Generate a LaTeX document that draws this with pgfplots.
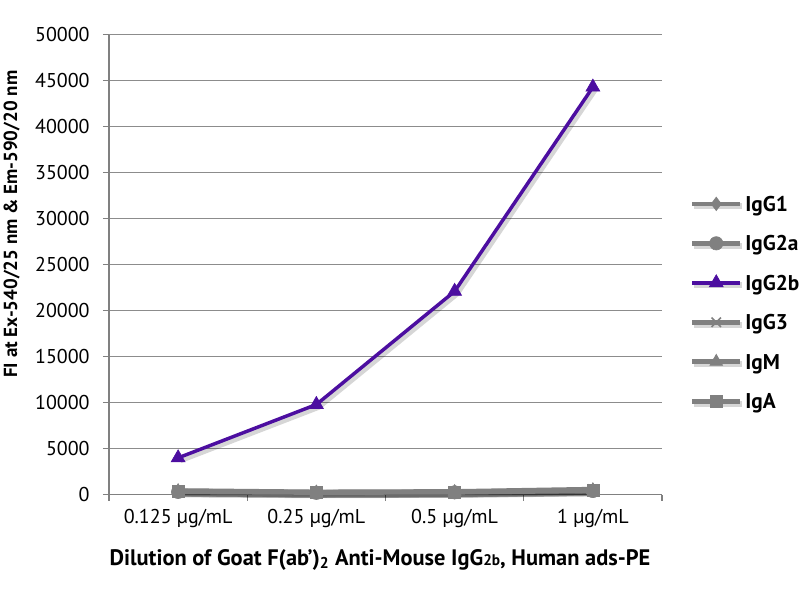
\documentclass[border=0pt]{standalone}
\usepackage{pgfplots}
\pgfplotsset{compat=1.18}
\usepackage{fontspec}
\setmainfont{PT Sans}
\definecolor{pur}{RGB}{76,14,160}
\definecolor{gr}{RGB}{128,128,128}
\definecolor{grid}{RGB}{140,140,140}
\tikzset{shad/.style={preaction={draw=black, draw opacity=0.16, line width=4.5pt, transform canvas={shift={(1.5pt,-1.8pt)}}}}}
\begin{document}
\begin{tikzpicture}
\useasboundingbox (0,0) rectangle (600pt,450pt);
\begin{axis}[
  at={(81.75pt,79pt)}, anchor=south west,
  scale only axis, width=414.75pt, height=345pt,
  xmin=-0.5, xmax=3.5, ymin=0, ymax=50000,
  xtick={0,1,2,3},
  xticklabels={0.125 µg/mL, 0.25 µg/mL, 0.5 µg/mL, 1 µg/mL},
  minor xtick={-0.5,0.5,1.5,2.5,3.5},
  ytick={0,5000,...,50000},
  scaled y ticks=false,
  /pgf/number format/assume math mode=true,
  /pgf/number format/1000 sep={},
  axis x line=bottom, axis y line=left,
  axis line style={-, draw=gr, line width=0.8pt},
  major x tick style={draw=none},
  minor x tick style={draw=gr, line width=0.8pt},
  y tick style={draw=gr, line width=0.8pt},
  tick align=outside,
  major tick length=4.5pt, minor tick length=4.5pt,
  ymajorgrids, grid style={draw=grid, line width=0.8pt},
  tick label style={font=\fontsize{15}{17}\selectfont},
  xticklabel style={yshift=-3pt},
  yticklabel style={xshift=-6.5pt},
  xlabel={\bfseries Dilution of Goat F(ab')\textsubscript{\raisebox{1pt}{2}} Anti-Mouse IgG{\fontsize{11.5}{12}\selectfont 2b}, Human ads-PE},
  ylabel={\bfseries FI at Ex-540/25 nm \& Em-590/20 nm},
  label style={font=\fontsize{14.2}{16}\selectfont},
  xlabel style={font=\fontsize{16.8}{18}\selectfont, at={(rel axis cs:0.49,-0.142)}, anchor=center},
  ylabel style={at={(rel axis cs:-0.176,0.588)}, anchor=center},
  legend style={at={(rel axis cs:1.05,0.659)}, anchor=north west, draw=none, fill=none,
    font=\fontsize{16}{18}\selectfont\bfseries\strut, row sep=11.5pt, inner sep=0pt},
  legend cell align=left,
  legend image code/.code={
    \draw[shad/.style={}, #1, mark repeat=2, mark phase=2] plot coordinates {(0pt,0pt) (18pt,0pt) (36pt,0pt)};
  },
  clip=false,
]
\addplot[gr, line width=3.5pt, shad, mark=diamond*, mark size=5pt, mark options={solid, line width=0.5pt, fill=gr}]
  coordinates {(0,350) (1,250) (2,280) (3,450)};
\addlegendentry{IgG1}
\addplot[gr, line width=3.5pt, shad, mark=*, mark size=5pt, mark options={solid, line width=0.5pt, fill=gr}]
  coordinates {(0,300) (1,200) (2,250) (3,400)};
\addlegendentry{IgG2a}
\addplot[pur, line width=2.6pt, shad, mark=triangle*, mark size=6pt, mark options={solid, line width=0.5pt, fill=pur}]
  coordinates {(0,4000) (1,9800) (2,22100) (3,44300)};
\addlegendentry{IgG2b}
\addplot[gr, line width=3.5pt, shad, mark=x, mark size=5pt, mark options={solid, line width=1.2pt}]
  coordinates {(0,450) (1,300) (2,350) (3,600)};
\addlegendentry{IgG3}
\addplot[gr, line width=3.5pt, shad, mark=triangle*, mark size=5.5pt, mark options={solid, line width=0.5pt, fill=gr}]
  coordinates {(0,400) (1,250) (2,300) (3,500)};
\addlegendentry{IgM}
\addplot[gr, line width=3.5pt, shad, mark=square*, mark size=4.5pt, mark options={solid, line width=0.5pt, fill=gr}]
  coordinates {(0,320) (1,230) (2,260) (3,420)};
\addlegendentry{IgA}
\end{axis}
\end{tikzpicture}
\end{document}
